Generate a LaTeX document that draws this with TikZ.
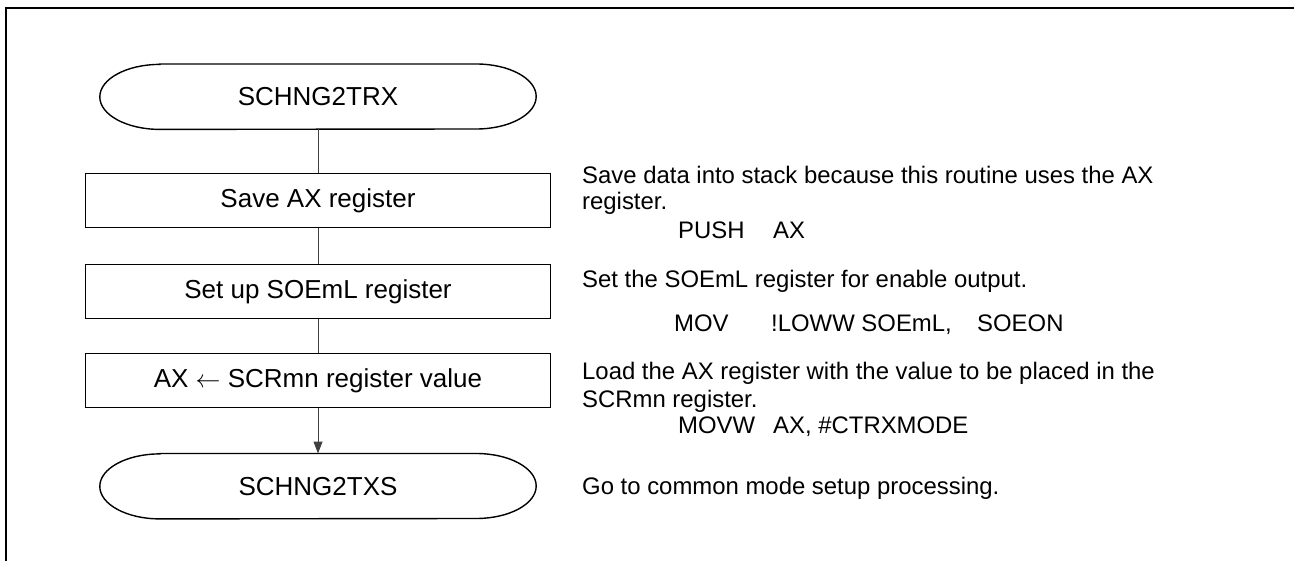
\documentclass[tikz,border=0pt]{standalone}
\usepackage{fontspec}
\setmainfont{Liberation Sans}
\usetikzlibrary{arrows.meta}
\begin{document}
\begin{tikzpicture}[x=1pt,y=1pt,
  boxtext/.style={font=\fontsize{26}{31}\selectfont},
  desc/.style={anchor=base west,inner sep=0pt,font=\fontsize{23.9}{28}\selectfont},
  procbox/.style={draw,line width=1.4pt,minimum width=465pt,minimum height=54pt,inner sep=0pt,boxtext},
  termnode/.style={minimum width=436pt,minimum height=65pt,inner sep=0pt,boxtext},
  termline/.style={line width=1.4pt},
  conn/.style={line width=1pt,draw=black!75}
]
\useasboundingbox (0,0) rectangle (1294,-561);
% frame
\coordinate (fbl) at (6,-561);
\coordinate (ftl) at (6,-8.3);
\coordinate (ftr) at (1294,-8.3);
\draw[line width=2.2pt] (fbl) -- (ftl) -- (ftr);

% terminals
\node[termnode] (t1) at (318,-96.7) {SCHNG2TRX};
\node[termnode] (t2) at (318,-486.2) {SCHNG2TXS};
\foreach \t in {t1,t2}{
  \draw[termline] ([xshift=60pt]\t.north west) -- ([xshift=-60pt]\t.north east)
    arc[start angle=90,end angle=-90,x radius=60pt,y radius=32.5pt]
    -- ([xshift=60pt]\t.south west)
    arc[start angle=270,end angle=90,x radius=60pt,y radius=32.5pt] -- cycle;
}

% process boxes
\node[procbox] (b1) at (318,-200.5) {Save AX register};
\node[procbox] (b2) at (318,-291.3) {Set up SOEmL register};
\node[procbox] (b3) at (318,-380.8) {AX $\leftarrow$ SCRmn register value};

% connectors
\draw[conn] (t1.south) -- (b1.north);
\draw[conn] (b1.south) -- (b2.north);
\draw[conn] (b2.south) -- (b3.north);
\draw[conn,-{Triangle[length=12pt,width=9pt]}] (b3.south) -- (t2.north);

% descriptions
\node[desc] (d1a) at (582,-184) {Save data into stack because this routine uses the AX};
\node[desc] (d1b) at (582,-210) {register.};
\node[desc] (d1c) at (678,-239) {PUSH};
\node[desc] (d1d) at (773,-239) {AX};
\node[desc] (d2a) at (582,-288) {Set the SOEmL register for enable output.};
\node[desc] (d2b) at (674,-331.7) {MOV};
\node[desc] (d2c) at (771,-331.7) {!LOWW SOEmL,};
\node[desc] (d2d) at (977,-331.7) {SOEON};
\node[desc] (d3a) at (582,-380) {Load the AX register with the value to be placed in the};
\node[desc] (d3b) at (582,-407) {SCRmn register.};
\node[desc] (d3c) at (678,-434) {MOVW};
\node[desc] (d3d) at (773,-434) {AX, \#CTRXMODE};
\node[desc] (d4a) at (582,-494) {Go to common mode setup processing.};
\end{tikzpicture}
\end{document}
